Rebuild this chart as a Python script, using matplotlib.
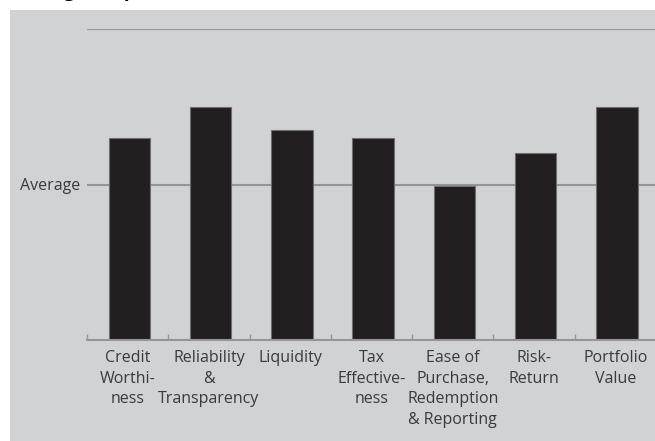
import matplotlib.pyplot as plt
import matplotlib.patches as mpatches
import numpy as np

plt.rcParams['font.family'] = ['Open Sans', 'DejaVu Sans']

# Категории и значения (1 = средний уровень)
categories = ["Credit\nWorthi-\nness", "Reliability\n&\nTransparency", "Liquidity",
              "Tax\nEffective-\nness", "Ease of\nPurchase,\nRedemption\n& Reporting",
              "Risk-\nReturn", "Portfolio\nValue"]
scores = [1.30, 1.50, 1.35, 1.30, 0.99, 1.20, 1.50]
y_ticks = [1]
y_labels = ["Average"]

bg = '#d1d2d4'
grid_col = '#939598'
bar_col = '#231f20'
txt_col = '#3a3a3a'

fig = plt.figure(figsize=(6.55, 4.41), dpi=100)
fig.patch.set_facecolor('white')
# серая подложка
fig.patches.append(mpatches.Rectangle((10 / 655, 0), 1, 1 - 10 / 441,
                                      transform=fig.transFigure, facecolor=bg,
                                      edgecolor='none', zorder=-10))
# обрезанный заголовок сверху (видны только нижние хвосты букв)
fig.text(12 / 655, 1 + 4.5 / 441, "Rating Comparison", fontsize=14, fontweight='bold',
         color='black', va='baseline', ha='left')

ax = fig.add_axes([87 / 655, 101 / 441, 569 / 655, 311 / 441])
ax.set_facecolor('none')

x = np.arange(len(categories))
ax.bar(x + 0.02, scores, 0.51, color=bar_col, edgecolor='#6d6e71', linewidth=0.8, zorder=3)

ax.set_xlim(-0.5, 6.5)
ax.set_ylim(0, 2)

# линии сетки: среднее и верх
for yv in [1, 2]:
    ax.axhline(yv, color=grid_col, lw=1.5, zorder=2)

for s in ['top', 'right', 'left']:
    ax.spines[s].set_visible(False)
ax.spines['bottom'].set_color(grid_col)
ax.spines['bottom'].set_linewidth(1.5)
ax.spines['bottom'].set_zorder(4)

ax.set_xticks(x)
ax.set_xticklabels(categories, fontsize=11.5, color=txt_col, linespacing=1.4)
ax.tick_params(axis='x', which='major', length=0, pad=7)
ax.set_xticks(np.arange(-0.5, 7, 1), minor=True)
ax.tick_params(axis='x', which='minor', direction='in', length=4, width=1, color=grid_col)

ax.set_yticks(y_ticks)
ax.set_yticklabels(y_labels, fontsize=11.5, color=txt_col)
ax.tick_params(axis='y', length=0, pad=5)

fig.savefig('out.png', dpi=100, facecolor=fig.get_facecolor())
